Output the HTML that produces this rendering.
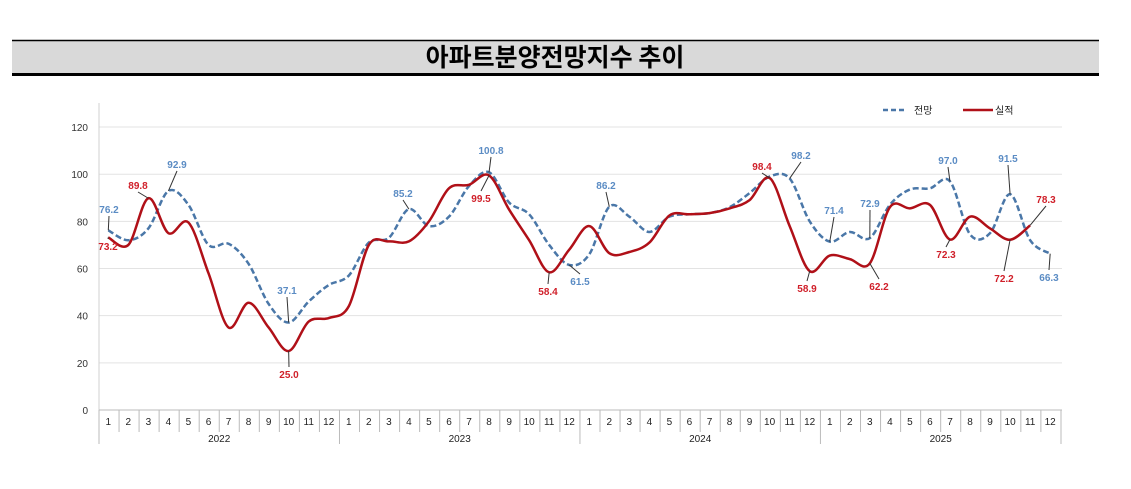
<!DOCTYPE html>
<html><head><meta charset="utf-8"><style>
body{margin:0;background:#fff;width:1131px;height:489px;overflow:hidden;font-family:"Liberation Sans","Noto Sans CJK KR",sans-serif}
</style></head><body>
<svg id="s" width="1131" height="489" xmlns="http://www.w3.org/2000/svg" style="position:absolute;left:0;top:0">
<rect x="12" y="40" width="1087" height="35" fill="#d9d9d9"/>
<line x1="12" y1="40.5" x2="1099" y2="40.5" stroke="#000" stroke-width="1.5"/>
<line x1="12" y1="74.5" x2="1099" y2="74.5" stroke="#000" stroke-width="3"/>
<text x="555" y="66" text-anchor="middle" font-size="25" font-weight="bold" font-family="'Noto Sans CJK KR',sans-serif">아파트분양전망지수  추이</text>
<g id="g"></g>
</svg>
<script>
var g=document.getElementById('g'),h='';
function Y(v){return 410-v*2.358}
function X(i){return 108.3+i*20.04}
for(var v=20;v<=120;v+=20)h+='<line x1="99" x2="1062" y1="'+Y(v)+'" y2="'+Y(v)+'" stroke="#e3e3e3"/>';
for(v=0;v<=120;v+=20)h+='<text x="88" y="'+(Y(v)+4)+'" text-anchor="end" font-size="10" fill="#333">'+v+'</text>';
h+='<line x1="99" x2="99" y1="103" y2="444" stroke="#d0d0d0"/><line x1="99" x2="1062" y1="410" y2="410" stroke="#bbb"/>';
for(var i=0;i<48;i++){var x=99+i*20.04;var yr=i%12==0;h+='<line x1="'+x+'" x2="'+x+'" y1="410" y2="'+(yr?444:432)+'" stroke="#bbb"/>';
h+='<text x="'+X(i)+'" y="425" text-anchor="middle" font-size="10" fill="#222">'+(i%12+1)+'</text>';}
h+='<line x1="1061" x2="1061" y1="410" y2="444" stroke="#bbb"/>';
['2022','2023','2024','2025'].forEach(function(t,k){h+='<text x="'+(99+120.2+k*240.5)+'" y="442" text-anchor="middle" font-size="10" fill="#222">'+t+'</text>'});
var B=[76.2,72,77,92.9,87,70,70.5,62,45,37.1,46,53,57,71,73,85.2,78,82,95,100.8,88,83,70,61.5,66,86.2,82,75.5,82,83,83.5,86,92,99,98.2,80,71.4,75.5,72.9,87,93.5,94,97,74.5,75,91.5,72,66.3];
var R=[73.2,70,89.8,75,79.5,58,35,45.5,35,25,37.5,39,44,70,71.5,71.5,80,94,95.5,99.5,85,72,58.4,68,78,66.5,67,71,82.5,83,83.5,85.5,89,98.4,78,58.9,65.5,64,62.2,86,85.5,87,72.3,82,77,72.2,78.3];
function path(a){var p=a.map(function(v,i){return[X(i),Y(v)]});var d='M'+p[0][0]+','+p[0][1];
for(var i=0;i<p.length-1;i++){var p0=p[i-1]||p[i],p1=p[i],p2=p[i+1],p3=p[i+2]||p2;var t=6;
d+='C'+(p1[0]+(p2[0]-p0[0])/t)+','+(p1[1]+(p2[1]-p0[1])/t)+' '+(p2[0]-(p3[0]-p1[0])/t)+','+(p2[1]-(p3[1]-p1[1])/t)+' '+p2[0]+','+p2[1];}return d}
h+='<path d="'+path(B)+'" fill="none" stroke="#4a77a8" stroke-width="2.5" stroke-dasharray="6,3"/>';
h+='<path d="'+path(R)+'" fill="none" stroke="#b01018" stroke-width="2.5"/>';
var L=[[0,76.2,'76.2',109,213,'b'],[3,92.9,'92.9',177,168,'b'],[9,37.1,'37.1',287,294,'b'],[15,85.2,'85.2',403,197,'b'],[19,100.8,'100.8',491,154,'b'],[23,61.5,'61.5',580,285,'b'],[25,86.2,'86.2',606,189,'b'],[34,98.2,'98.2',801,159,'b'],[36,71.4,'71.4',834,214,'b'],[38,72.9,'72.9',870,207,'b'],[42,97,'97.0',948,164,'b'],[45,91.5,'91.5',1008,162,'b'],[47,66.3,'66.3',1049,281,'b'],
[0,73.2,'73.2',108,250,'r'],[2,89.8,'89.8',138,189,'r'],[9,25,'25.0',289,378,'r'],[19,99.5,'99.5',481,202,'r'],[22,58.4,'58.4',548,295,'r'],[33,98.4,'98.4',762,170,'r'],[35,58.9,'58.9',807,292,'r'],[38,62.2,'62.2',879,290,'r'],[42,72.3,'72.3',946,258,'r'],[45,72.2,'72.2',1004,282,'r'],[46,78.3,'78.3',1046,203,'r']];
L.forEach(function(l){var c=l[5]=='b'?'#5b8cc4':'#d0202a';var px=X(l[0]),py=Y(l[1]);var ly=l[4]<py?l[4]+3:l[4]-11;
h+='<line x1="'+px+'" y1="'+py+'" x2="'+l[3]+'" y2="'+ly+'" stroke="#333" stroke-width="1"/>';
h+='<text x="'+l[3]+'" y="'+l[4]+'" text-anchor="middle" font-size="10" font-weight="bold" fill="'+c+'">'+l[2]+'</text>'});
h+='<line x1="883" x2="906" y1="110" y2="110" stroke="#4a77a8" stroke-width="2.5" stroke-dasharray="5,3"/><text x="914" y="114" font-size="10" fill="#222">전망</text>';
h+='<line x1="963" x2="993" y1="110" y2="110" stroke="#b01018" stroke-width="2.5"/><text x="995" y="114" font-size="10" fill="#222">실적</text>';
g.innerHTML=h;
</script>
</body></html>
